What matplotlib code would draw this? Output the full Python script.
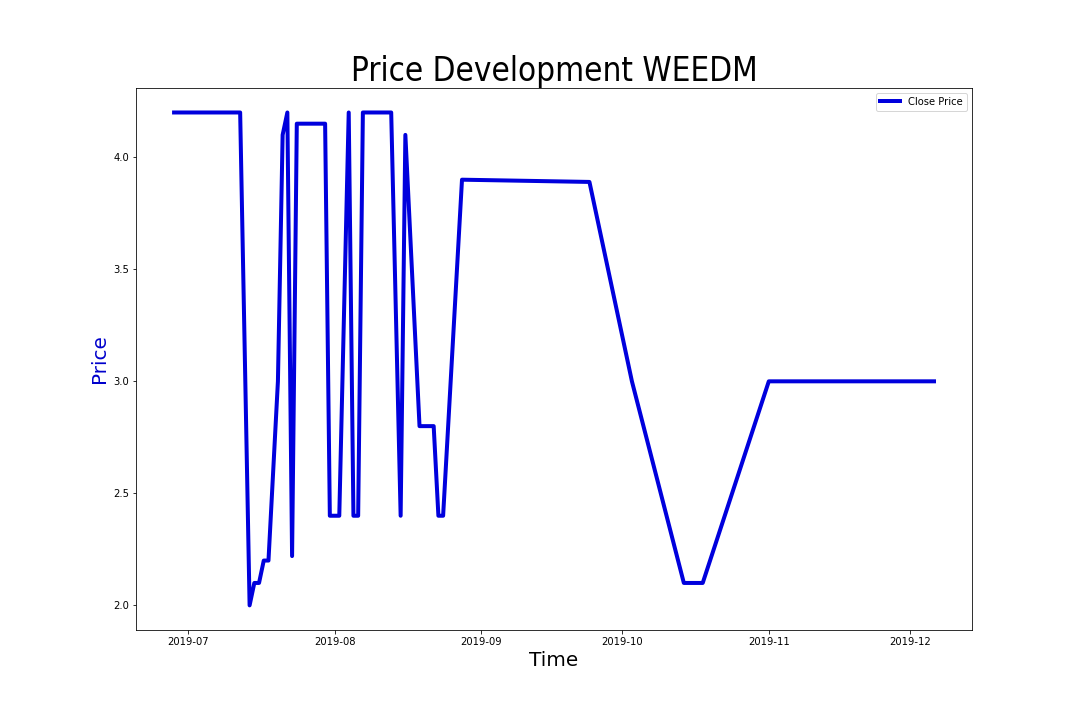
import matplotlib
matplotlib.use("Agg")
import matplotlib.pyplot as plt
import pandas as pd

dates = ["2019-06-28", "2019-07-12", "2019-07-14", "2019-07-15", "2019-07-16",
         "2019-07-17", "2019-07-18", "2019-07-20", "2019-07-21", "2019-07-22",
         "2019-07-23", "2019-07-24", "2019-07-30", "2019-07-31", "2019-08-02",
         "2019-08-04", "2019-08-05", "2019-08-06", "2019-08-07", "2019-08-13",
         "2019-08-15", "2019-08-16", "2019-08-19", "2019-08-22", "2019-08-23",
         "2019-08-24", "2019-08-28", "2019-09-24", "2019-10-03", "2019-10-14",
         "2019-10-18", "2019-11-01", "2019-12-06"]
close_price = [4.2, 4.2, 2.0, 2.1, 2.1,
               2.2, 2.2, 3.0, 4.1, 4.2,
               2.22, 4.15, 4.15, 2.4, 2.4,
               4.2, 2.4, 2.4, 4.2, 4.2,
               2.4, 4.1, 2.8, 2.8, 2.4,
               2.4, 3.9, 3.89, 3.0, 2.1,
               2.1, 3.0, 3.0]

x = pd.to_datetime(dates)

fig = plt.figure(figsize=(15, 10), dpi=72)
ax = fig.add_axes([0.126, 0.125, 0.774, 0.753])
ax.plot(x, close_price, color="#0000dd", linewidth=4, label="Close Price")
ax.set_title("Price Development WEEDM", fontsize=33, fontstretch="condensed")
ax.set_xlabel("Time", fontsize=20)
ax.set_ylabel("Price", fontsize=20, color="#0000cc")
ax.legend(loc="upper right", fontsize=10)
fig.savefig("out.png", dpi=72)
